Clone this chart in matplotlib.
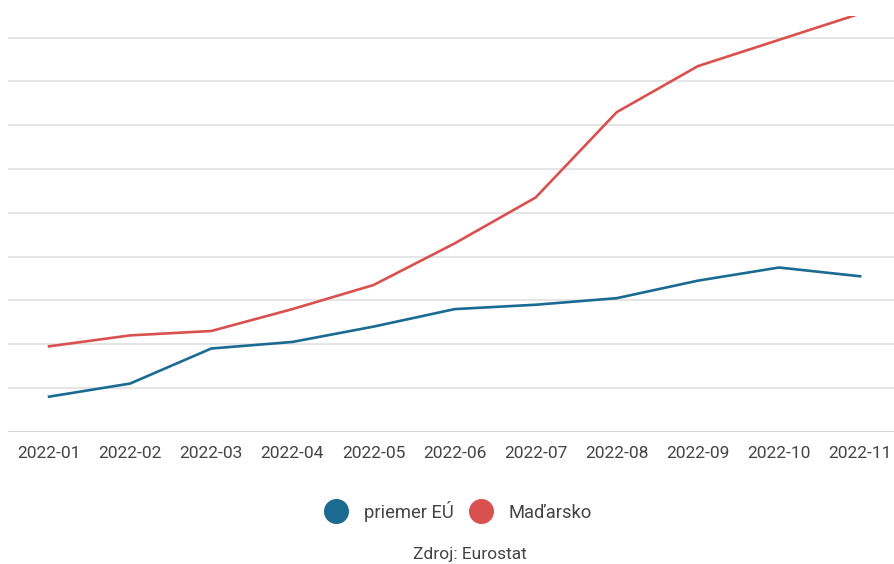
import matplotlib
matplotlib.use("Agg")
import matplotlib.pyplot as plt
from matplotlib.lines import Line2D

plt.rcParams['font.family'] = ['Roboto', 'DejaVu Sans']

months = ['2022-01', '2022-02', '2022-03', '2022-04', '2022-05', '2022-06',
          '2022-07', '2022-08', '2022-09', '2022-10', '2022-11']
eu_avg = [5.6, 6.2, 7.8, 8.1, 8.8, 9.6, 9.8, 10.1, 10.9, 11.5, 11.1]
hungary = [7.9, 8.4, 8.6, 9.6, 10.7, 12.6, 14.7, 18.6, 20.7, 21.9, 23.1]

blue = '#1a6a92'
red = '#d9514f'

fig = plt.figure(figsize=(8.95, 5.64), dpi=100)
# plot area runs from y=16 px to y=431.7 px
ax = fig.add_axes([8 / 895, 1 - 431.7 / 564, 1 - 8 / 895, (431.7 - 16) / 564])

x = list(range(len(months)))
ax.plot(x, eu_avg, color=blue, lw=1.9, solid_joinstyle='round', zorder=3)
ax.plot(x, hungary, color=red, lw=1.9, solid_joinstyle='round', zorder=3)

ax.set_xlim(-0.506, 10.43)
ax.set_ylim(4, 22.99)
ax.set_yticks(range(4, 24, 2))
ax.set_yticklabels([])
ax.grid(axis='y', color='#e0e0e0', lw=1.2)
ax.set_axisbelow(True)
ax.tick_params(axis='y', length=0)
ax.tick_params(axis='x', length=0, pad=10, labelsize=12.5, labelcolor='#444444')
ax.set_xticks(x)
ax.set_xticklabels(months)
for s in ax.spines.values():
    s.set_visible(False)
ax.axhline(4, color='#d6d6d6', lw=1.5, zorder=1)

handles = [Line2D([], [], ls='', marker='o', markersize=17, color=blue),
           Line2D([], [], ls='', marker='o', markersize=17, color=red)]
fig.legend(handles, ['priemer EÚ', 'Maďarsko'], loc='center',
           bbox_to_anchor=(455 / 895, 1 - 511 / 564), ncol=2, frameon=False,
           fontsize=13.2, labelcolor='#444444', handletextpad=0.5,
           columnspacing=0.5)

fig.text(470 / 895, 1 - 555 / 564, 'Zdroj: Eurostat', ha='center', va='center',
         fontsize=12.5, color='#444444')

fig.savefig('out.png', dpi=100)
